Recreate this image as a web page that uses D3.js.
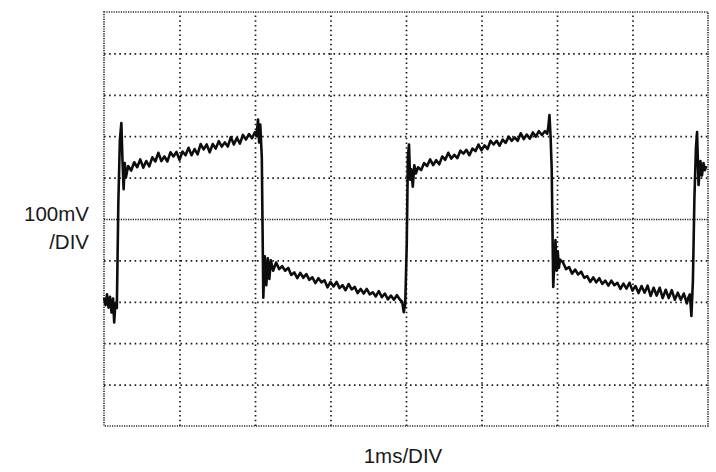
<!DOCTYPE html>
<html>
<head>
<meta charset="utf-8">
<script src="https://cdn.jsdelivr.net/npm/d3@7"></script>
<style>
  html, body { margin: 0; padding: 0; background: #fff; }
  svg { display: block; }
  .label { font-family: "Liberation Sans", Arial, sans-serif; font-size: 20.5px; fill: #1a1a1a; }
</style>
</head>
<body>
<svg width="716" height="472"></svg>
<script>
// graticule: 1 ms per division across, 100 mV per division up
const timeDivs = [0, 1, 2, 3, 4, 5, 6, 7, 8];
const voltDivs = [-500, -400, -300, -200, -100, 0, 100, 200, 300, 400, 500];
const voltLabel = ["100mV", "/DIV"];
const timeLabel = "1ms/DIV";

// trace, [ms, mV]
const lowStart = [[0, -190], [0.02, -208], [0.04, -182], [0.06, -214], [0.08, -188], [0.10, -226], [0.12, -192], [0.135, -250], [0.15, -205], [0.17, -215]];
const rise1 = [[0.19, 40], [0.21, 190], [0.23, 232], [0.245, 140], [0.26, 72], [0.275, 135], [0.29, 100]];
const high1 = [[0.32, 128], [0.36, 117], [0.40, 137], [0.44, 125], [0.48, 144], [0.52, 124], [0.56, 140], [0.60, 127], [0.64, 149], [0.68, 139],
  [0.72, 160], [0.76, 140], [0.80, 151], [0.84, 139], [0.88, 161], [0.92, 151], [0.96, 162], [1.00, 143], [1.04, 163], [1.08, 154],
  [1.12, 172], [1.16, 154], [1.20, 169], [1.24, 156], [1.28, 181], [1.32, 168], [1.36, 180], [1.40, 161], [1.44, 181], [1.48, 170],
  [1.52, 188], [1.56, 175], [1.60, 185], [1.64, 175], [1.68, 198], [1.72, 180], [1.76, 196], [1.80, 182], [1.84, 203], [1.88, 192],
  [1.92, 205], [1.96, 195], [2.00, 210]];
const fall1 = [[2.02, 200], [2.04, 240], [2.055, 185], [2.07, 228], [2.09, 150], [2.11, -190], [2.13, -90], [2.15, -160], [2.17, -95], [2.19, -145], [2.21, -100], [2.24, -125]];
const low1 = [[2.28, -105], [2.32, -121], [2.36, -114], [2.40, -125], [2.44, -118], [2.48, -135], [2.52, -129], [2.56, -143], [2.60, -130], [2.64, -142],
  [2.68, -133], [2.72, -147], [2.76, -141], [2.80, -155], [2.84, -143], [2.88, -153], [2.92, -148], [2.96, -165], [3.00, -152], [3.04, -163],
  [3.08, -152], [3.12, -167], [3.16, -160], [3.20, -172], [3.24, -157], [3.28, -170], [3.32, -164], [3.36, -179], [3.40, -169], [3.44, -180],
  [3.48, -169], [3.52, -182], [3.56, -177], [3.60, -187], [3.64, -174], [3.68, -189], [3.72, -180], [3.76, -194], [3.80, -185], [3.84, -195],
  [3.88, -184], [3.92, -195]];
const rise2 = [[3.95, -200], [3.97, -225], [3.99, -205], [4.01, -60], [4.025, 150], [4.04, 180], [4.055, 95], [4.07, 120], [4.09, 78], [4.11, 130], [4.13, 110]];
const high2 = [[4.16, 125], [4.20, 118], [4.24, 135], [4.28, 128], [4.32, 144], [4.36, 130], [4.40, 142], [4.44, 132], [4.48, 151], [4.52, 143],
  [4.56, 160], [4.60, 146], [4.64, 155], [4.68, 147], [4.72, 165], [4.76, 158], [4.80, 167], [4.84, 154], [4.88, 170], [4.92, 164],
  [4.96, 180], [5.00, 166], [5.04, 178], [5.08, 169], [5.12, 189], [5.16, 180], [5.20, 189], [5.24, 177], [5.28, 192], [5.32, 184],
  [5.36, 199], [5.40, 189], [5.44, 197], [5.48, 189], [5.52, 207], [5.56, 193], [5.60, 204], [5.64, 194], [5.68, 209], [5.72, 199],
  [5.76, 212], [5.80, 203], [5.84, 212]];
const fall2 = [[5.87, 206], [5.885, 222], [5.90, 251], [5.915, 200], [5.93, 120], [5.95, -164], [5.965, -105], [5.98, -51], [5.995, -125], [6.01, -78], [6.025, -118], [6.04, -98]];
const low2 = [[6.08, -105], [6.12, -121], [6.16, -116], [6.20, -132], [6.24, -122], [6.28, -134], [6.32, -127], [6.36, -142], [6.40, -138], [6.44, -152],
  [6.48, -141], [6.52, -153], [6.56, -143], [6.60, -157], [6.64, -149], [6.68, -161], [6.72, -149], [6.76, -160], [6.80, -154], [6.84, -169],
  [6.88, -156], [6.92, -168], [6.96, -154], [7.00, -173], [7.04, -162], [7.08, -179], [7.12, -162], [7.16, -178], [7.20, -161], [7.24, -186],
  [7.28, -166], [7.32, -185], [7.36, -166], [7.40, -191], [7.44, -171], [7.48, -191], [7.52, -172], [7.56, -195], [7.60, -178], [7.64, -195],
  [7.68, -180], [7.72, -204]];
const rise3 = [[7.74, -190], [7.76, -182], [7.78, -234], [7.80, -150], [7.82, 50], [7.84, 170], [7.855, 210], [7.875, 82], [7.90, 140], [7.92, 105], [7.94, 135], [7.96, 118], [7.975, 128]];

const trace = [].concat(lowStart, rise1, high1, fall1, low1, rise2, high2, fall2, low2, rise3);

const svg = d3.select("svg");
const plotLeft = 104, plotRight = 708, plotTop = 12, plotBottom = 426;

const x = d3.scaleLinear().domain([0, 8]).range([plotLeft, plotRight]);
const y = d3.scaleLinear().domain([-500, 500]).range([plotBottom, plotTop]);

// dotted graticule
svg.append("g")
  .attr("class", "grid-x")
  .attr("transform", `translate(0, ${plotBottom})`)
  .call(d3.axisBottom(x).tickValues(timeDivs.slice(1, -1)).tickSize(-(plotBottom - plotTop)).tickFormat(""))
  .call(g => g.select(".domain").remove())
  .selectAll("line")
  .attr("stroke", "#1a1a1a")
  .attr("stroke-width", 1.7)
  .attr("stroke-dasharray", "1.5,3.2");

svg.append("g")
  .attr("class", "grid-y")
  .attr("transform", `translate(${plotLeft}, 0)`)
  .call(d3.axisLeft(y).tickValues(voltDivs.slice(1, -1)).tickSize(-(plotRight - plotLeft)).tickFormat(""))
  .call(g => g.select(".domain").remove())
  .selectAll("line")
  .attr("stroke", "#1a1a1a")
  .attr("stroke-width", 1.7)
  .attr("stroke-dasharray", d => d === 0 ? "1.2,1.2" : "1.6,3.5");

// frame
svg.append("rect")
  .attr("x", x(0))
  .attr("y", y(500))
  .attr("width", x(8) - x(0))
  .attr("height", y(-500) - y(500))
  .attr("fill", "none")
  .attr("stroke", "#2a2a2a")
  .attr("stroke-width", 1.7)
  .attr("stroke-dasharray", "1.2,1.2");

// waveform
svg.append("path")
  .datum(trace)
  .attr("fill", "none")
  .attr("stroke", "#0d0d0d")
  .attr("stroke-width", 2.6)
  .attr("stroke-linejoin", "round")
  .attr("d", d3.line().x(d => x(d[0])).y(d => y(d[1])));

// labels
svg.append("text")
  .attr("class", "label")
  .attr("text-anchor", "end")
  .attr("x", 89)
  .attr("y", 221)
  .selectAll("tspan")
  .data(voltLabel)
  .enter().append("tspan")
  .attr("x", 89)
  .attr("dy", (d, i) => i ? 28 : 0)
  .text(d => d);

svg.append("text")
  .attr("class", "label")
  .attr("text-anchor", "middle")
  .attr("x", 403)
  .attr("y", 463)
  .text(timeLabel);
</script>
</body>
</html>
